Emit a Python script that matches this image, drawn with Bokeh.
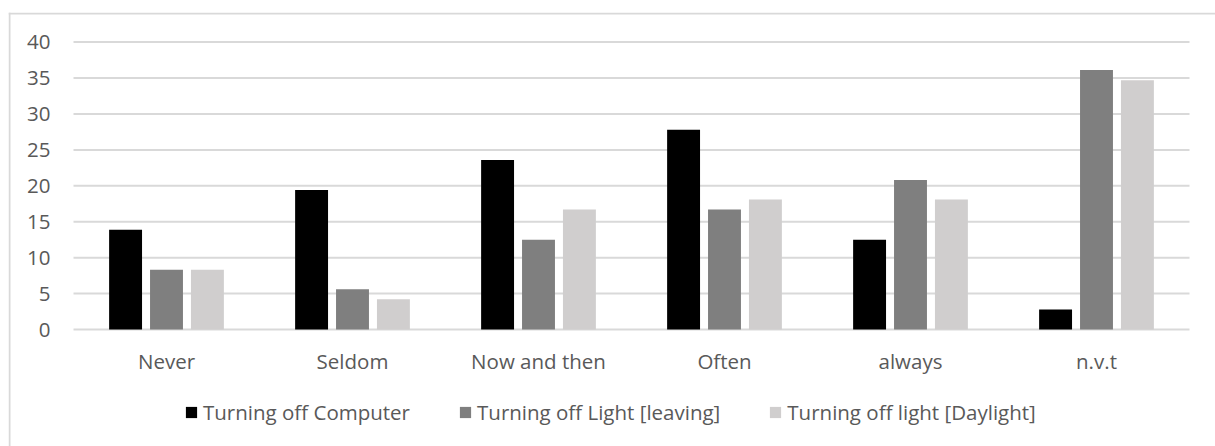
from bokeh.plotting import figure
from bokeh.models import (ColumnDataSource, Range1d, Legend, LegendItem, LinearAxis,
                          FixedTicker, Span)
from bokeh.transform import dodge
from bokeh.embed import file_html
from bokeh.resources import INLINE

categories = ["Never", "Seldom", "Now and then", "Often", "always", "n.v.t"]
computer = [13.9, 19.4, 23.6, 27.8, 12.5, 2.8]
light_leaving = [8.3, 5.6, 12.5, 16.7, 20.8, 36.1]
light_daylight = [8.3, 4.2, 16.7, 18.1, 18.1, 34.7]
y_ticks = [0, 5, 10, 15, 20, 25, 30, 35, 40]
series_names = ["Turning off Computer", "Turning off Light [leaving]", "Turning off light [Daylight]"]
series_colors = ["#000000", "#7f7f7f", "#d0cece"]

FONT = "Open Sans"
FONT_SIZE = "20.5px"
TEXT = "#595959"
GRID = "#d9d9d9"

W, H = 1215, 446
# frame spans the whole chart box; the plot area sits inside it
PX_X = 186.0          # pixels per category
PX_Y = 7.185          # pixels per unit on the value axis
X0 = -0.5 - 65 / PX_X
X1 = len(categories) - 0.5 + 26 / PX_X
Y1 = 40 + 29.6 / PX_Y
Y0 = -117 / PX_Y

xs = list(range(len(categories)))
source = ColumnDataSource(dict(x=xs, computer=computer,
                               leaving=light_leaving, daylight=light_daylight))

p = figure(width=W, height=H, output_backend="svg", toolbar_location=None,
           x_range=Range1d(X0, X1), y_range=Range1d(Y0, Y1),
           x_axis_type=None, y_axis_type=None,
           min_border_left=8, min_border_right=0, min_border_top=12, min_border_bottom=0)
p.outline_line_color = None
p.background_fill_color = "white"
p.border_fill_color = "white"
p.xgrid.visible = False
p.ygrid.visible = False

# horizontal gridlines across the plot area
p.segment(x0=-0.5, x1=len(categories) - 0.5, y0=y_ticks, y1=y_ticks,
          line_color=GRID, line_width=2)

renderers = []
for field, offset, color in zip(["computer", "leaving", "daylight"], [-0.22, 0.0, 0.22], series_colors):
    r = p.vbar(x=dodge("x", offset), top=field, bottom=0, width=0.177,
               source=source, fill_color=color, line_color=None)
    renderers.append(r)

# value axis, pinned to the left edge of the plot area
yaxis = LinearAxis(fixed_location=-0.5, ticker=FixedTicker(ticks=y_ticks))
yaxis.axis_line_color = None
yaxis.major_tick_line_color = None
yaxis.minor_tick_line_color = None
yaxis.major_tick_out = 0
yaxis.major_tick_in = 0
yaxis.major_label_standoff = 23
yaxis.major_label_text_font = FONT
yaxis.major_label_text_font_size = FONT_SIZE
yaxis.major_label_text_color = TEXT
p.add_layout(yaxis, "left")

# category axis, pinned at zero
xaxis = LinearAxis(fixed_location=0, ticker=FixedTicker(ticks=xs),
                   major_label_overrides={i: c for i, c in zip(xs, categories)})
xaxis.axis_line_color = None
xaxis.major_tick_line_color = None
xaxis.minor_tick_line_color = None
xaxis.major_tick_out = 0
xaxis.major_tick_in = 0
xaxis.major_label_standoff = 17
xaxis.major_label_text_font = FONT
xaxis.major_label_text_font_size = FONT_SIZE
xaxis.major_label_text_color = TEXT
p.add_layout(xaxis, "below")

legend = Legend(items=[LegendItem(label=n, renderers=[r]) for n, r in zip(series_names, renderers)],
                orientation="horizontal", location=(176, 20),
                label_text_font=FONT, label_text_font_size=FONT_SIZE, label_text_color=TEXT,
                glyph_width=14, glyph_height=14, label_standoff=5, spacing=48,
                padding=0, margin=0, border_line_color=None, background_fill_alpha=0)
p.add_layout(legend, "center")

# chart box border (top and left edges)
p.add_layout(Span(location=X0 + 1 / PX_X, dimension="height", line_color=GRID, line_width=2))
p.add_layout(Span(location=Y1 - 1 / PX_Y, dimension="width", line_color=GRID, line_width=2))

open("out.html", "w").write(file_html(p, INLINE))
